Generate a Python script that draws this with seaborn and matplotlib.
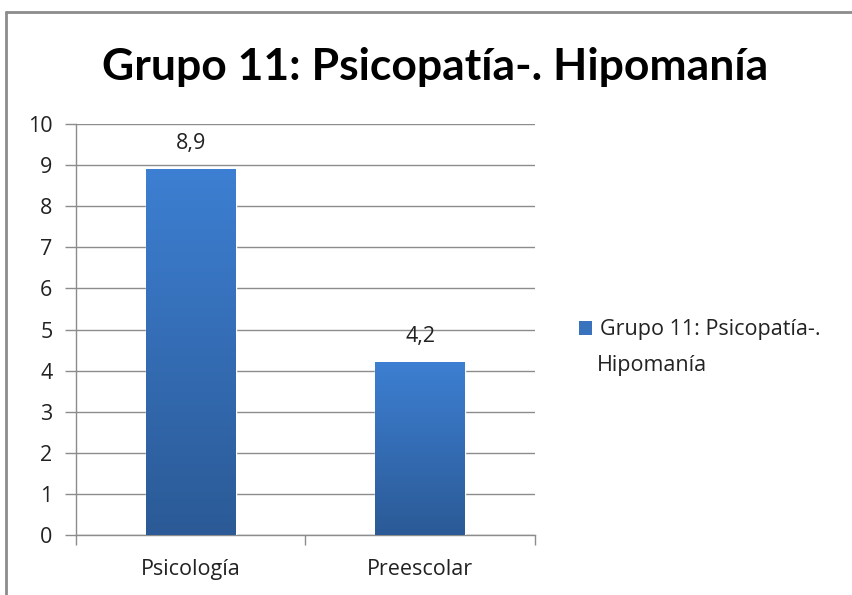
import numpy as np
import pandas as pd
import matplotlib
matplotlib.use("Agg")
import matplotlib.pyplot as plt
import seaborn as sns
from matplotlib.colors import LinearSegmentedColormap
from matplotlib.patches import Rectangle

categories = ["Psicología", "Preescolar"]
values = [8.9, 4.2]
value_labels = ["8,9", "4,2"]
series_lines = ["Grupo 11: Psicopatía-.", "Hipomanía"]
title = "Grupo 11: Psicopatía-. Hipomanía"
yticks = list(range(0, 11))

sns.set_style("white")
plt.rcParams['font.family'] = ['Open Sans', 'DejaVu Sans']

df = pd.DataFrame({"cat": categories, "val": values})

fig = plt.figure(figsize=(8.52, 5.95), dpi=100)
ax = fig.add_axes([76/852, 1-535/595, (535-76)/852, (535-124)/595])

BAR = "#3a73bd"
sns.barplot(data=df, x="cat", y="val", ax=ax, color=BAR, width=0.39,
            saturation=1, zorder=3)

FS = 15.5
TXT = "#222222"
ax.set_ylim(0, 10)
ax.set_xlim(-0.5, 1.5)
ax.set_yticks(yticks)
ax.set_yticklabels([str(t) for t in yticks], fontsize=FS, color=TXT)
ax.set_xlabel("")
ax.set_ylabel("")
ax.grid(axis="y", color="#8c8c8c", linewidth=1, zorder=0)
ax.set_axisbelow(True)
for s in ["top", "right"]:
    ax.spines[s].set_visible(False)
for s in ["left", "bottom"]:
    ax.spines[s].set_color("#8c8c8c")
    ax.spines[s].set_linewidth(1)

ax.tick_params(axis="y", which="major", length=8, width=1, color="#8c8c8c", pad=9, left=True)
ax.set_xticks([0, 1])
ax.set_xticklabels(categories, fontsize=FS, color=TXT)
ax.tick_params(axis="x", which="major", length=0, pad=17)
ax.set_xticks([-0.5, 0.5, 1.5], minor=True)
ax.tick_params(axis="x", which="minor", length=7, width=1, color="#8c8c8c", bottom=True)

# gradient fill on bars
cmap = LinearSegmentedColormap.from_list("g", ["#2b5a96", "#3d7fd2"])
grad = np.linspace(0, 1, 256).reshape(-1, 1)
for i, p in enumerate(list(ax.patches)):
    x0, w, h = p.get_x(), p.get_width(), p.get_height()
    im = ax.imshow(grad, cmap=cmap, aspect="auto", origin="lower",
                   extent=[x0, x0 + w, 0, h], zorder=4)
    im.set_clip_path(p)
    ax.text(x0 + w/2, h + 0.38, value_labels[i],
            ha="center", va="bottom", fontsize=FS, color=TXT)
ax.set_xlim(-0.5, 1.5)
ax.set_ylim(0, 10)

fig.text(435/852, 1-67/595, title, ha="center", va="center", fontsize=32,
         fontweight="bold", color="#000000", family=["Lato", "DejaVu Sans"])

# legend (first line with the marker, second line continues the label)
handle = Rectangle((0, 0), 1, 1, facecolor=BAR, edgecolor="none")
leg = fig.legend([handle], [series_lines[0]], loc="center left",
                 bbox_to_anchor=(560/852, 1-330/595), frameon=False,
                 fontsize=FS, handlelength=0.6, handleheight=0.6,
                 handletextpad=0.35, labelcolor=TXT)
fig.text(597/852, 1-366/595, series_lines[1], ha="left", va="center",
         fontsize=FS, color=TXT)

# outer border (top and left visible)
fig.add_artist(plt.Line2D([6/852, 6/852], [0, 1-12/595], color="#8c8c8c", linewidth=2, transform=fig.transFigure))
fig.add_artist(plt.Line2D([6/852, 1], [1-12/595, 1-12/595], color="#8c8c8c", linewidth=2, transform=fig.transFigure))

fig.savefig("out.png", dpi=100)
